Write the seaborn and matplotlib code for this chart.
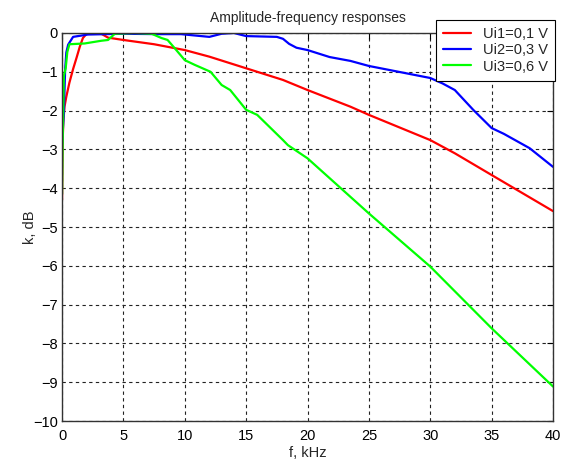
import pandas as pd
import matplotlib
matplotlib.use("Agg")
import matplotlib.pyplot as plt
import seaborn as sns

# Amplitude-frequency responses
f_ui1 = [0, 0.05, 0.1, 0.2, 0.35, 0.6, 0.9, 1.2, 1.45, 1.7, 2.0, 3.2, 3.75, 5,
         7.5, 10, 12, 15, 18, 20, 23.5, 25, 30, 32, 35, 40]
k_ui1 = [-4.3, -2.8, -2.3, -1.9, -1.64, -1.28, -0.93, -0.62, -0.35, -0.13, -0.02,
         -0.02, -0.12, -0.18, -0.29, -0.44, -0.61, -0.91, -1.21, -1.47, -1.9, -2.11,
         -2.76, -3.1, -3.66, -4.59]

f_ui2 = [0, 0.15, 0.25, 0.35, 0.5, 0.9, 2.1, 5, 8, 9.7, 11, 12, 13, 14, 15, 17.5,
         18, 18.5, 19.1, 20, 21.8, 23.5, 25, 30, 31, 32, 33.5, 35, 36, 38.1, 40]
k_ui2 = [-2.85, -2.05, -0.95, -0.5, -0.3, -0.1, -0.04, -0.02, -0.03, -0.03, -0.07,
         -0.1, -0.02, 0.0, -0.08, -0.1, -0.15, -0.28, -0.38, -0.44, -0.62, -0.72,
         -0.85, -1.16, -1.3, -1.47, -1.98, -2.45, -2.6, -2.97, -3.45]

f_ui3 = [0, 0.05, 0.15, 0.3, 0.43, 0.6, 1.85, 3.2, 3.75, 4.3, 5.9, 7.3, 8.1, 8.6,
         9.2, 10, 10.8, 12.1, 13, 13.7, 15, 15.9, 18, 18.4, 20, 25, 30, 35, 40]
k_ui3 = [-4.15, -2.9, -1.1, -0.9, -0.49, -0.29, -0.27, -0.2, -0.18, -0.02, 0.0,
         -0.02, -0.13, -0.18, -0.4, -0.7, -0.82, -1.0, -1.34, -1.47, -1.98, -2.11,
         -2.76, -2.89, -3.23, -4.65, -6.02, -7.61, -9.11]

labels = ["Ui1=0,1 V", "Ui2=0,3 V", "Ui3=0,6 V"]
colors = ["#ff0000", "#0000ff", "#00ff00"]
x_ticks = [0, 5, 10, 15, 20, 25, 30, 35, 40]
y_ticks = list(range(-10, 1))

df = pd.concat([
    pd.DataFrame({"f": f, "k": k, "series": lab})
    for f, k, lab in zip([f_ui1, f_ui2, f_ui3], [k_ui1, k_ui2, k_ui3], labels)
], ignore_index=True)

sns.set_style("white")
plt.rcParams["font.family"] = ["Liberation Sans", "DejaVu Sans"]

fig = plt.figure(figsize=(5.64, 4.62), dpi=100)
ax = fig.add_axes([0.110, 0.0887, 0.8705, 0.8399])

sns.lineplot(data=df, x="f", y="k", hue="series", palette=colors,
             estimator=None, sort=False, linewidth=1.6, ax=ax, legend=False)

ax.set_xlim(0, 40)
ax.set_ylim(-10, 0)
ax.set_xticks(x_ticks)
ax.set_yticks(y_ticks)
ax.grid(True, color="#222222", linestyle=(0, (3, 3)), linewidth=0.8)
ax.tick_params(axis="both", direction="in", top=True, right=True, length=4,
               labelsize=10.5, colors="black")
ax.tick_params(axis="x", pad=6)
ax.tick_params(axis="y", pad=3)
for sp in ax.spines.values():
    sp.set_color("#333333")
    sp.set_linewidth(1.0)

ax.set_title("Amplitude-frequency responses", fontsize=10, pad=8)
ax.set_xlabel("f, kHz", fontsize=10.5, labelpad=2)
ax.set_ylabel("k, dB", fontsize=10.5, labelpad=-3)

handles = [plt.Line2D([], [], color=c, lw=1.6) for c in colors]
leg = ax.legend(handles, labels, loc="upper right",
                bbox_to_anchor=(0.984, 0.957), bbox_transform=fig.transFigure,
                borderaxespad=0, fancybox=False, framealpha=1, edgecolor="black",
                fontsize=10.5, handlelength=1.9, handletextpad=0.8,
                labelspacing=0.15, borderpad=0.5)
leg.get_frame().set_linewidth(0.8)

fig.savefig("out.png", dpi=100)
plt.close(fig)
